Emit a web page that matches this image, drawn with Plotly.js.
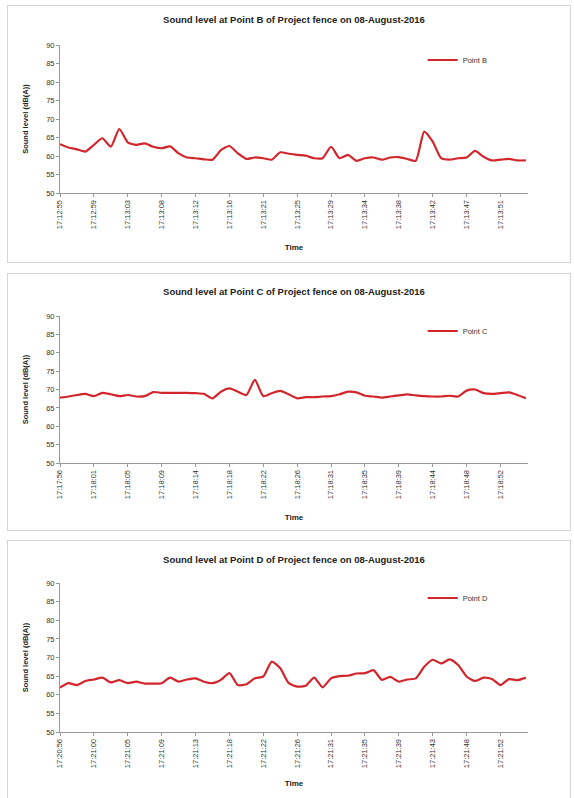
<!DOCTYPE html>
<html><head><meta charset="utf-8">
<script src="https://cdn.plot.ly/plotly-3.0.1.min.js"></script>
<style>
body{margin:0;background:#fff;width:574px;height:798px;overflow:hidden;position:relative}
.panel{position:absolute;left:7px;width:564px;border:1px solid #d4d4d4;box-sizing:border-box;background:#fff}
</style></head><body>
<div id="pB" class="panel" style="top:5px;height:258px"></div>
<div id="pC" class="panel" style="top:273px;height:258px"></div>
<div id="pD" class="panel" style="top:540px;height:262px"></div>
<script>
// ---- Data ----
const seriesB = [63.2,62.3,61.8,61.2,63.0,64.8,62.5,67.3,63.7,63.0,63.4,62.5,62.1,62.6,60.7,59.6,59.4,59.1,59.0,61.6,62.7,60.7,59.2,59.6,59.4,59.0,61.0,60.6,60.3,60.1,59.4,59.4,62.5,59.4,60.3,58.7,59.4,59.6,59.0,59.6,59.7,59.2,58.7,66.6,63.9,59.4,59.0,59.4,59.6,61.4,59.8,58.8,59.0,59.2,58.8,58.8];
const seriesC = [67.8,68.1,68.5,68.8,68.2,69.1,68.7,68.2,68.5,68.1,68.2,69.3,69.1,69.1,69.1,69.1,69.0,68.8,67.6,69.4,70.3,69.4,68.5,72.6,68.2,69.0,69.6,68.7,67.6,67.9,67.9,68.1,68.2,68.7,69.4,69.2,68.3,68.1,67.8,68.1,68.4,68.7,68.4,68.2,68.1,68.1,68.3,68.1,69.7,70.0,69.0,68.8,69.0,69.2,68.5,67.6];
const seriesD = [61.9,63.1,62.6,63.7,64.1,64.6,63.3,63.9,63.1,63.5,63.0,63.0,63.1,64.6,63.5,64.1,64.4,63.5,63.1,64.0,65.8,62.6,62.8,64.4,64.9,68.9,67.1,63.1,62.2,62.4,64.6,62.0,64.4,65.0,65.1,65.7,65.8,66.6,64.0,64.8,63.5,64.1,64.4,67.5,69.4,68.4,69.5,68.0,64.9,63.7,64.6,64.2,62.6,64.2,63.9,64.6];
const timeLabelsB = ["17:12:55","17:12:59","17:13:03","17:13:08","17:13:12","17:13:16","17:13:21","17:13:25","17:13:29","17:13:34","17:13:38","17:13:42","17:13:47","17:13:51"];
const timeLabelsC = ["17:17:56","17:18:01","17:18:05","17:18:09","17:18:14","17:18:18","17:18:22","17:18:26","17:18:31","17:18:35","17:18:39","17:18:44","17:18:48","17:18:52"];
const timeLabelsD = ["17:20:56","17:21:00","17:21:05","17:21:09","17:21:13","17:21:18","17:21:22","17:21:26","17:21:31","17:21:35","17:21:39","17:21:43","17:21:48","17:21:52"];
const yTicks = [50,55,60,65,70,75,80,85,90];

const FONT = '"Liberation Sans", Arial, sans-serif';
const LABEL_STEP = 4;

function draw(id, point, values, labels, h, t, b, titleTop, xStandoff) {
  const x = values.map((_, i) => i);
  const trace = {
    x: x, y: values, type: 'scatter', mode: 'lines', name: point,
    line: {color: '#d2262c', width: 2.2, shape: 'spline', smoothing: 0.6}
  };
  const plotH = h - t - b;
  const layout = {
    width: 562, height: h,
    margin: {l: 52, r: 42, t: t, b: b},
    paper_bgcolor: '#fff', plot_bgcolor: '#fff',
    font: {family: FONT, color: '#333'},
    title: {text: 'Sound level at ' + point + ' of Project fence on 08-August-2016',
      font: {family: FONT, size: 9.5, weight: 'bold', color: '#222'},
      x: 0.5, xref: 'paper', xanchor: 'center',
      y: 1 - titleTop / h, yref: 'container', yanchor: 'middle'},
    showlegend: true,
    legend: {x: 0.775, xanchor: 'left', y: 1 - 15 / plotH, yanchor: 'middle',
      font: {family: FONT, size: 7.5, color: '#333'}, bgcolor: 'rgba(0,0,0,0)', itemwidth: 30},
    xaxis: {
      range: [0, 55.25], tickmode: 'array',
      tickvals: labels.map((_, k) => k * LABEL_STEP), ticktext: labels,
      tickangle: -90, tickfont: {family: FONT, size: 7.5, color: '#333'},
      ticks: 'outside', ticklen: 3, tickcolor: '#999',
      showline: true, linecolor: '#999', linewidth: 1,
      showgrid: false, zeroline: false, automargin: false,
      title: {text: 'Time', font: {family: FONT, size: 8, weight: 'bold', color: '#222'}, standoff: xStandoff}
    },
    yaxis: {
      range: [50, 90], tickmode: 'array', tickvals: yTicks,
      tickfont: {family: FONT, size: 7.5, color: '#333'},
      ticks: 'outside', ticklen: 3, tickcolor: '#999',
      showline: true, linecolor: '#999', linewidth: 1,
      showgrid: false, zeroline: false, automargin: false,
      title: {text: 'Sound level (dB(A))', font: {family: FONT, size: 7.5, weight: 'bold', color: '#222'}, standoff: 16}
    }
  };
  Plotly.newPlot(id, [trace], layout, {displayModeBar: false, staticPlot: true});
}

draw('pB', 'Point B', seriesB, timeLabelsB, 256, 39, 69, 14, 16);
draw('pC', 'Point C', seriesC, timeLabelsC, 256, 42, 67, 18, 16);
draw('pD', 'Point D', seriesD, timeLabelsD, 260, 42, 69, 19, 13);
</script>
</body></html>
